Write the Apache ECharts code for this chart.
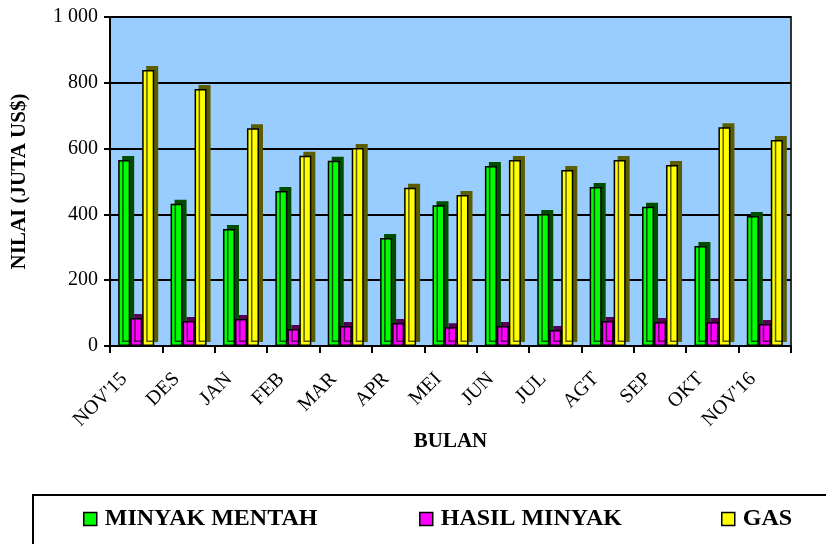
<!DOCTYPE html>
<html><head><meta charset="utf-8">
<script src="https://cdn.jsdelivr.net/npm/echarts@6/dist/echarts.min.js"></script>
<style>html,body{margin:0;padding:0;background:#fff}#c{width:826px;height:544px}</style>
</head><body><div id="c"></div>
<script>
var categories = ["NOV'15","DES","JAN","FEB","MAR","APR","MEI","JUN","JUL","AGT","SEP","OKT","NOV'16"];
var minyakMentah = [565, 432, 356, 471, 563, 328, 428, 547, 401, 483, 423, 304, 395];
var hasilMinyak = [85, 76, 82, 52, 61, 70, 57, 61, 49, 76, 73, 73, 67];
var gas = [839, 781, 662, 578, 602, 481, 459, 565, 535, 565, 550, 665, 626];
var seriesNames = ['MINYAK MENTAH','HASIL MINYAK','GAS'];
var yTicks = [0, 200, 400, 600, 800, 1000];

var FONT = '"Liberation Serif", "Times New Roman", serif';
var chart = echarts.init(document.getElementById('c'), null, {renderer:'canvas'});

function barSeries(name, data, color, side) {
  return {
    type: 'bar', name: name, data: data, barWidth: 12, barGap: '0%', barCategoryGap: '30%',
    itemStyle: {color: color, borderColor: '#000', borderWidth: 1.5,
      shadowBlur: 0, shadowOffsetX: 4, shadowOffsetY: -4, shadowColor: side},
    emphasis: {disabled: true}, animation: false
  };
}
function legendAt(name, left) {
  return {
    data: [name], left: left, top: 507, padding: 0, itemWidth: 13, itemHeight: 13,
    icon: 'rect',
    itemStyle: {borderColor: '#000', borderWidth: 1.5, shadowBlur: 0, shadowOffsetX: 0, shadowOffsetY: 0, shadowColor: 'rgba(0,0,0,0)'},
    textStyle: {fontFamily: FONT, fontWeight: 'bold', fontSize: 24, color: '#000', padding: [0,0,0,3]},
    selectedMode: false
  };
}

chart.setOption({
  animation: false,
  grid: {left: 110, right: 35, top: 17, bottom: 198, show: true, backgroundColor: '#99CCFF',
         borderColor: '#333', borderWidth: 2},
  graphic: [{type: 'rect', shape: {x: 33, y: 495, width: 820, height: 80},
             style: {fill: 'none', stroke: '#000', lineWidth: 2}, silent: true}],
  legend: [legendAt(seriesNames[0], 83), legendAt(seriesNames[1], 419), legendAt(seriesNames[2], 721)],
  xAxis: {
    type: 'category', data: categories,
    name: 'BULAN', nameLocation: 'middle', nameGap: 85, nameMoveOverlap: false,
    nameTextStyle: {fontFamily: FONT, fontWeight: 'bold', fontSize: 21, color: '#000'},
    axisLine: {lineStyle: {color: '#000', width: 2}},
    axisTick: {show: true, length: 7, lineStyle: {color: '#000', width: 2}},
    axisLabel: {rotate: 45, fontFamily: FONT, fontSize: 20, color: '#000', margin: 18, interval: 0,
      padding: [0, 17, 0, 0]}
  },
  yAxis: {
    type: 'value', min: 0, max: 1000, interval: 200,
    name: 'NILAI (JUTA US$)', nameLocation: 'middle', nameGap: 80, nameRotate: 90,
    nameTextStyle: {fontFamily: FONT, fontWeight: 'bold', fontSize: 21, color: '#000'},
    axisLine: {show: true, lineStyle: {color: '#000', width: 2}},
    axisTick: {show: true, length: 6, lineStyle: {color: '#000', width: 2}},
    axisLabel: {fontFamily: FONT, fontSize: 20, color: '#000', margin: 12,
      formatter: function (v) { return v >= 1000 ? (Math.floor(v/1000) + ' ' + String(v % 1000).padStart(3,'0')) : String(v); }},
    splitLine: {show: true, lineStyle: {color: '#000', width: 2}}
  },
  series: [
    barSeries(seriesNames[0], minyakMentah, '#00FF00', '#004d00'),
    barSeries(seriesNames[1], hasilMinyak, '#FF00FF', '#550055'),
    barSeries(seriesNames[2], gas, '#FFFF00', '#5c5c00')
  ]
});
</script>
</body></html>
